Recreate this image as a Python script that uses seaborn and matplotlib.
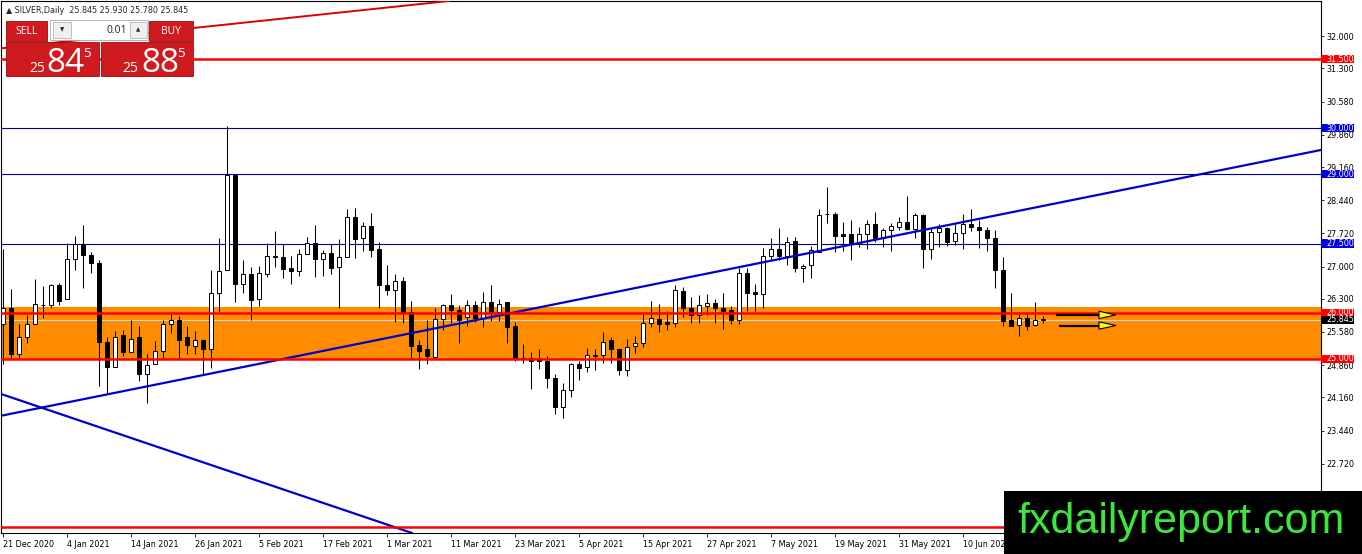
import numpy as np
import pandas as pd
import matplotlib
matplotlib.use("Agg")
import matplotlib.pyplot as plt
from matplotlib.patches import Rectangle, Polygon
import seaborn as sns

# SILVER daily candles, 21 Dec 2020 .. 24 Jun 2021
opens = [25.75, 26.11, 25.11, 25.46, 25.76, 26.16, 26.16, 26.59, 26.30, 27.17,
         27.48, 27.25, 27.07, 25.36, 24.82, 25.51, 25.14, 25.46, 24.67, 24.89,
         25.16, 25.76, 25.83, 25.48, 25.27, 25.40, 25.20, 26.43, 26.93, 28.98,
         26.63, 26.83, 26.29, 26.83, 27.20, 27.20, 26.97, 26.90, 27.28, 27.52,
         27.17, 27.30, 26.98, 27.21, 28.08, 27.61, 27.88, 27.38, 26.61, 26.50,
         26.69, 26.01, 25.29, 25.20, 25.04, 25.87, 26.16, 26.06, 25.91, 26.17,
         25.88, 26.23, 26.01, 26.22, 25.70, 25.02, 25.02, 24.99, 24.96, 24.59,
         23.95, 24.33, 24.89, 24.82, 25.06, 25.07, 25.40, 25.22, 24.75, 25.28,
         25.35, 25.78, 25.87, 25.80, 25.78, 26.47, 26.09, 25.94, 26.15, 26.20,
         26.10, 26.05, 25.83, 26.85, 26.44, 26.41, 27.23, 27.39, 27.23, 27.56,
         26.96, 27.03, 27.32, 28.13, 28.14, 27.70, 27.70, 27.50, 27.70, 27.93,
         27.63, 27.80, 27.86, 27.97, 27.81, 28.11, 27.37, 27.75, 27.83, 27.56,
         27.72, 27.93, 27.85, 27.80, 27.61, 26.92, 25.83, 25.74, 25.88, 25.74,
         25.845]
highs = [27.39, 26.52, 25.75, 25.94, 26.74, 26.57, 26.63, 26.64, 27.51, 27.66,
         27.90, 27.31, 27.15, 25.46, 25.60, 25.63, 25.85, 25.72, 25.11, 25.38,
         25.83, 25.98, 25.92, 25.72, 25.60, 25.43, 26.92, 27.63, 30.05, 28.99,
         27.15, 26.99, 27.01, 27.52, 27.77, 27.48, 27.23, 27.38, 27.64, 27.91,
         27.35, 27.48, 27.59, 28.25, 28.27, 27.97, 28.17, 27.54, 27.03, 26.83,
         26.77, 26.25, 25.41, 25.85, 26.09, 26.19, 26.41, 26.16, 26.28, 26.25,
         26.45, 26.59, 26.29, 26.23, 25.80, 25.31, 25.14, 25.20, 25.05, 24.67,
         24.47, 24.91, 24.96, 25.24, 25.22, 25.58, 25.47, 25.22, 25.43, 25.49,
         25.98, 26.25, 26.18, 26.04, 26.59, 26.56, 26.34, 26.38, 26.41, 26.30,
         26.43, 26.14, 26.96, 26.96, 26.63, 27.41, 27.63, 27.83, 27.64, 27.64,
         27.06, 27.44, 28.24, 28.73, 28.19, 27.96, 28.02, 27.86, 28.01, 28.19,
         27.83, 27.95, 28.08, 28.53, 28.17, 28.15, 27.83, 27.93, 27.86, 27.93,
         28.15, 28.24, 28.01, 27.86, 27.79, 27.20, 26.43, 26.01, 25.98, 26.24,
         25.93]
lows = [24.89, 25.00, 25.00, 25.34, 25.76, 25.89, 26.09, 26.16, 26.30, 26.93,
        26.54, 26.86, 24.40, 24.24, 24.82, 25.05, 25.14, 24.51, 24.03, 24.89,
        25.00, 25.56, 25.00, 25.11, 25.11, 24.66, 24.80, 26.01, 26.93, 26.23,
        26.43, 25.85, 26.14, 26.77, 26.99, 26.75, 26.63, 26.79, 27.28, 26.77,
        26.79, 26.83, 26.09, 27.21, 27.19, 27.33, 27.21, 26.09, 26.39, 25.80,
        25.77, 25.00, 24.77, 24.89, 25.04, 25.62, 25.77, 25.33, 25.72, 25.80,
        25.69, 25.81, 25.81, 25.35, 24.95, 24.91, 24.35, 24.78, 24.37, 23.79,
        23.72, 24.17, 24.54, 24.71, 24.76, 24.91, 24.91, 24.64, 24.62, 25.12,
        25.25, 25.69, 25.58, 25.63, 25.69, 25.91, 25.77, 25.77, 25.94, 25.77,
        25.65, 25.75, 25.75, 26.04, 26.04, 26.11, 27.14, 27.14, 27.03, 26.88,
        26.67, 26.76, 27.32, 27.95, 27.32, 27.34, 27.14, 27.43, 27.39, 27.54,
        27.43, 27.34, 27.79, 27.79, 27.63, 26.97, 27.16, 27.43, 27.45, 27.46,
        27.39, 27.77, 27.41, 27.34, 26.53, 25.72, 25.72, 25.49, 25.63, 25.71,
        25.78]
closes = [26.11, 25.11, 25.46, 25.76, 26.18, 26.17, 26.59, 26.25, 27.17, 27.48,
          27.25, 27.07, 25.36, 24.82, 25.48, 25.14, 25.43, 24.67, 24.87, 25.16,
          25.76, 25.83, 25.41, 25.29, 25.40, 25.20, 26.43, 26.90, 28.98, 26.62,
          26.83, 26.27, 26.85, 27.22, 27.22, 26.94, 26.91, 27.28, 27.52, 27.17,
          27.30, 26.96, 27.21, 28.08, 27.59, 27.88, 27.35, 26.61, 26.50, 26.69,
          26.01, 25.27, 25.17, 25.06, 25.87, 26.16, 26.05, 25.85, 26.17, 25.88,
          26.23, 26.01, 26.19, 25.69, 25.00, 24.99, 24.96, 24.95, 24.59, 23.96,
          24.33, 24.89, 24.80, 25.07, 25.09, 25.36, 25.20, 24.75, 25.25, 25.35,
          25.78, 25.89, 25.76, 25.76, 26.50, 26.09, 25.94, 26.17, 26.20, 26.11,
          26.04, 25.85, 26.85, 26.43, 26.41, 27.23, 27.39, 27.23, 27.53, 26.96,
          27.01, 27.35, 28.12, 28.14, 27.67, 27.67, 27.49, 27.70, 27.93, 27.61,
          27.79, 27.88, 27.97, 27.81, 28.11, 27.38, 27.74, 27.83, 27.54, 27.72,
          27.93, 27.86, 27.79, 27.61, 26.93, 25.81, 25.72, 25.88, 25.71, 25.83,
          25.845]

tick_labels = ["21 Dec 2020", "4 Jan 2021", "14 Jan 2021", "26 Jan 2021", "5 Feb 2021",
               "17 Feb 2021", "1 Mar 2021", "11 Mar 2021", "23 Mar 2021", "5 Apr 2021",
               "15 Apr 2021", "27 Apr 2021", "7 May 2021", "19 May 2021", "31 May 2021",
               "10 Jun 2021"]
price_ticks = [32.0, 31.3, 30.58, 29.86, 29.16, 28.44, 27.72, 27.0,
               26.3, 25.58, 24.86, 24.16, 23.44, 22.72]

red_levels = [31.5, 26.0, 25.0, 21.34]
blue_levels = [30.0, 29.0, 27.5]
zone_low, zone_high = 25.0, 26.12
last_price = 25.845

# trend lines: two anchor points each (candle index, price)
up_trend = [(0, 23.77), (164.75, 29.53)]
down_trend = [(0, 24.22), (51.25, 21.21)]
red_trend = [(0, 31.74), (53.4, 32.72)]

# the two arrows at the right end
arrow_prices = [25.95, 25.72]
arrow_starts = [131.6, 132.0]

df = pd.DataFrame({"open": opens, "high": highs, "low": lows, "close": closes})
df["i"] = np.arange(len(df))
df["up"] = df["close"] >= df["open"]

sns.set_style("white")
plt.rcParams["font.family"] = ["DejaVu Sans"]

W, H = 1362, 554
fig = plt.figure(figsize=(W / 100, H / 100), dpi=100)
ax = fig.add_axes([1 / W, 1 - 533 / H, 1320 / W, 532 / H])
ax.set_xlim(-0.25, 164.75)
ax.set_ylim(21.217, 32.763)

# support zone and level lines
ax.axhspan(zone_low, zone_high, color="#FF8C00", lw=0, zorder=1)
ax.axhline(last_price, color="#D8D8D8", lw=0.8, zorder=1.5)
for lv in blue_levels:
    ax.axhline(lv, color="#0000A0", lw=0.8, zorder=2)
for lv in red_levels:
    ax.axhline(lv, color="#FF0000", lw=1.8, zorder=6)

# candles
ax.vlines(df["i"], df["low"], df["high"], color="black", lw=0.75, zorder=3)
body = (df["close"] - df["open"]).where(lambda s: s.abs() > 0.01, 0.01)
ax.bar(df["i"], body, bottom=df["open"], width=0.56,
       color=np.where(df["up"], "white", "black"), edgecolor="black",
       linewidth=0.7, zorder=4)

ax.axline(up_trend[0], up_trend[1], color="#0000CD", lw=1.6, zorder=5)
ax.axline(down_trend[0], down_trend[1], color="#0000CD", lw=1.6, zorder=5)
ax.axline(red_trend[0], red_trend[1], color="#E00000", lw=1.4, zorder=5)

for p, x0 in zip(arrow_prices, arrow_starts):
    ax.plot([x0, 137.0], [p, p], color="black", lw=1.6, zorder=7, solid_capstyle="butt")
    ax.add_patch(Polygon([(137.0, p + 0.08), (139.1, p), (137.0, p - 0.08)],
                         closed=True, facecolor="#FFFF00", edgecolor="black",
                         lw=0.8, zorder=8))

# axes
for s in ax.spines.values():
    s.set_color("black")
    s.set_linewidth(0.8)
ax.set_xticks(np.arange(len(tick_labels)) * 8)
ax.set_xticklabels(tick_labels, ha="left")
ax.set_yticks(price_ticks)
ax.set_yticklabels([f"{v:.3f}" for v in price_ticks])
ax.yaxis.tick_right()
ax.tick_params(axis="x", bottom=True, length=3, width=0.6, pad=2, labelsize=5.8, colors="black")
ax.tick_params(axis="y", right=True, left=False, labelright=True, labelleft=False,
               length=2.5, width=0.6, pad=1.5, labelsize=5.8, colors="black")

# level tags on the price scale
tags = [(31.5, "#FF0000"), (30.0, "#0000E0"), (29.0, "#0000E0"), (27.5, "#0000E0"),
        (26.0, "#FF0000"), (last_price, "black"), (25.0, "#FF0000")]
trans = ax.get_yaxis_transform()
for p, c in tags:
    ax.add_patch(Rectangle((1.0, p - 0.087), 33 / 1320, 0.174, transform=trans,
                           facecolor=c, edgecolor="none", clip_on=False, zorder=10))
    ax.text(1.0 + 5 / 1320, p, f"{p:.3f}", transform=trans, va="center", ha="left",
            color="white", fontsize=5.8, zorder=11, clip_on=False)


# trading panel, drawn in pixel units of the figure
def box(x0, y0, x1, y1, **kw):
    fig.add_artist(Rectangle((x0 / W, 1 - y1 / H), (x1 - x0) / W, (y1 - y0) / H,
                             transform=fig.transFigure, **kw))


def label(x, y, s, **kw):
    fig.text(x / W, 1 - y / H, s, **kw)


red = "#CF1A20"
label(6, 10.5, "▲ SILVER,Daily  25.845 25.930 25.780 25.845", fontsize=5.8, va="center")
box(6, 21, 47, 41, facecolor=red, edgecolor="#9A0A0E", lw=0.6, zorder=2)
box(149, 21, 193, 41, facecolor=red, edgecolor="#9A0A0E", lw=0.6, zorder=2)
box(50, 20, 148, 40, facecolor="white", edgecolor="#A8A8A8", lw=0.6, zorder=2)
box(53, 22, 71, 38, facecolor="#EFEFEF", edgecolor="#B8B8B8", lw=0.6, zorder=3)
box(130, 22, 147, 38, facecolor="#EFEFEF", edgecolor="#B8B8B8", lw=0.6, zorder=3)
box(6, 42, 99, 76, facecolor=red, edgecolor="#9A0A0E", lw=0.6, zorder=2)
box(101, 42, 193, 76, facecolor=red, edgecolor="#9A0A0E", lw=0.6, zorder=2)

label(27, 31, "SELL", color="white", fontsize=7.5, ha="center", va="center", family="Open Sans", zorder=4)
label(171, 31, "BUY", color="white", fontsize=7.5, ha="center", va="center", family="Open Sans", zorder=4)
label(62, 30, "▼", fontsize=4, ha="center", va="center", zorder=4)
label(138.5, 30, "▲", fontsize=4, ha="center", va="center", zorder=4)
label(127, 30.5, "0.01", fontsize=7.5, ha="right", va="center", family="Open Sans", zorder=4)

for x_small, x_big, x_sup, big in [(29, 46, 83, "84"), (122, 141, 177, "88")]:
    label(x_small, 72, "25", color="white", fontsize=10, ha="left", va="baseline", family="Open Sans", zorder=4)
    label(x_big, 72, big, color="white", fontsize=24, ha="left", va="baseline", family="Open Sans", zorder=4)
    label(x_sup, 47, "5", color="white", fontsize=9.5, ha="left", va="top", family="Open Sans", zorder=4)

# watermark
box(1004, 491, 1362, 554, facecolor="black", edgecolor="none", zorder=20)
label(1181, 533, "fxdailyreport.com", color="#3CE63C", fontsize=31, ha="center",
      va="baseline", family="Liberation Sans", zorder=21)

fig.savefig("out.png", dpi=100)
